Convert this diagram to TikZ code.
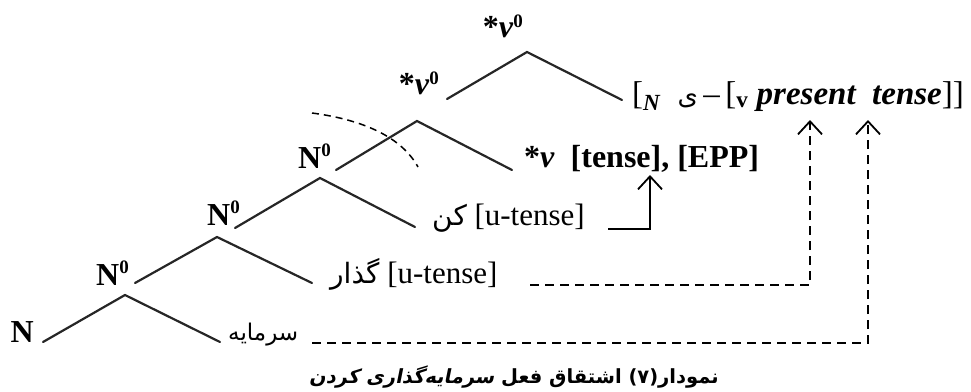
\documentclass[tikz,border=0pt]{standalone}
\usepackage{fontspec}
\setmainfont{Liberation Serif}
\newfontfamily\arabicfont[Script=Arabic]{DejaVu Sans}
\newfontfamily\arabicslfont[Script=Arabic,FakeSlant=0.2]{DejaVu Sans}
\TeXXeTstate=1
\usetikzlibrary{arrows.meta}
\newcommand\supzero[1][12pt]{\raisebox{#1}{\fontsize{19}{19}\selectfont\bfseries 0}}
\tikzset{
  leg/.style={line width=2.2pt, draw=black!85, line cap=round},
  lab/.style={inner sep=0pt, font=\fontsize{32}{38}\selectfont\bfseries},
  txt/.style={inner sep=0pt, font=\fontsize{31}{37}\selectfont},
  dashline/.style={line width=1.8pt, dash pattern=on 9pt off 6pt},
  arr/.style={-{Straight Barb[length=13pt,width=24pt]}},
  arc/.style={line width=1.5pt, dash pattern=on 7pt off 5pt}
}
\begin{document}
\begin{tikzpicture}[x=1pt,y=-1pt]
\useasboundingbox (0,0) rectangle (971,391);
% tree points
\coordinate (a1) at (527,52);  \coordinate (a1l) at (447,99); \coordinate (a1r) at (622,100);
\coordinate (a2) at (417,121); \coordinate (a2l) at (336,170); \coordinate (a2r) at (512,170);
\coordinate (a3) at (320,178); \coordinate (a3l) at (235,228); \coordinate (a3r) at (415,227);
\coordinate (a4) at (217,237); \coordinate (a4l) at (135,283); \coordinate (a4r) at (312,283);
\coordinate (a5) at (125,295); \coordinate (a5l) at (43,342);  \coordinate (a5r) at (220,342);
\draw[leg] (a1l) -- (a1) -- (a1r);
\draw[leg] (a2l) -- (a2) -- (a2r);
\draw[leg] (a3l) -- (a3) -- (a3r);
\draw[leg] (a4l) -- (a4) -- (a4r);
\draw[leg] (a5l) -- (a5) -- (a5r);
% category labels
\node[lab, anchor=base east] (l1) at (523,37) {*\textit{v}\supzero[10pt]};
\node[lab, anchor=base east] (l2) at (439,94) {*\textit{v}\supzero[10pt]};
\node[lab, anchor=base east] (l3) at (331,168) {N\supzero};
\node[lab, anchor=base east] (l4) at (240,225) {N\supzero};
\node[lab, anchor=base east] (l5) at (129,285) {N\supzero};
\node[lab, anchor=base east] (l6) at (34,342) {N};
% terminal texts
\node[txt, anchor=base west, font=\fontsize{33}{38}\selectfont] (t1) at (632,104) {[\textsubscript{\textbf{\textit{N}}}\ \ {\arabicfont\fontsize{26}{30}\selectfont ی}\,–\,[\textsubscript{\textbf{v}}\ \textbf{\textit{present\ \ tense}}]]};
\node[lab, anchor=base west] (t2) at (524,167) {*\textit{v}\ \ [tense], [EPP]};
\node[txt, anchor=base west] (t3) at (432,225) {{\arabicfont\fontsize{28}{32}\selectfont کن} [u-tense]};
\node[txt, anchor=base west] (t4) at (330,283) {{\arabicfont\fontsize{28}{32}\selectfont گذار} [u-tense]};
\node[txt, anchor=base west] (t5) at (228,340) {{\arabicfont\fontsize{23}{27}\selectfont سرمایه}};
% dashed arc
\coordinate (c1) at (312,113); \coordinate (c2) at (418,167);
\draw[arc] (c1) .. controls (365,120) and (402,138) .. (c2);
% arrows
\coordinate (k1) at (608,229); \coordinate (k2) at (650,175);
\draw[line width=1.8pt, arr] (k1) -| (k2);
\coordinate (g1) at (530,285); \coordinate (g2) at (810,120);
\draw[dashline, arr] (g1) -| (g2);
\coordinate (s1) at (312,343); \coordinate (s2) at (868,120);
\draw[dashline, arr] (s1) -| (s2);
% caption
\node[inner sep=0pt, font=\fontsize{19.5}{24}\selectfont] (cap) at (514,377) {\arabicfont\bfseries\beginR نمودار(۷) اشتقاق فعل {\arabicslfont\bfseries سرمایه‌گذاری کردن}\endR};
\end{tikzpicture}
\end{document}
